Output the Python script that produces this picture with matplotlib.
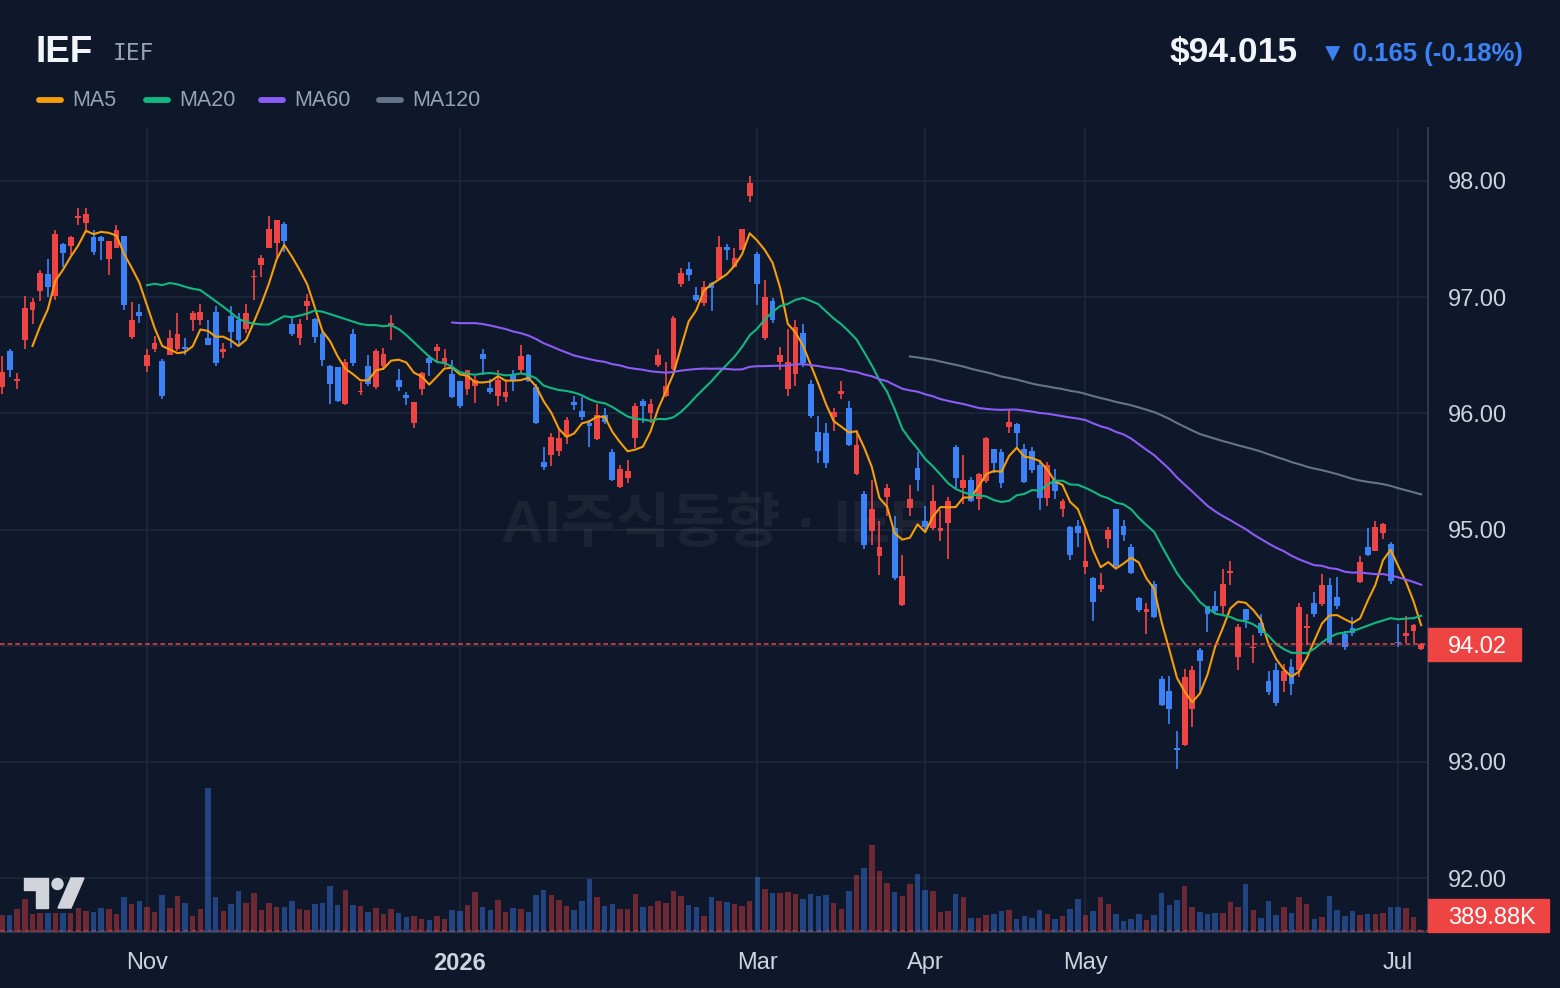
import numpy as np
import pandas as pd
import matplotlib
matplotlib.use("Agg")
import matplotlib.pyplot as plt
import matplotlib.transforms as mtrans
from matplotlib.patches import Rectangle, Polygon, Ellipse
from matplotlib.lines import Line2D

# daily bars, oldest first (Oct 7 2025 .. Jul 7 2026)
opens = [96.23, 96.54, 96.28, 96.63, 96.89, 97.05, 97.20, 97.01, 97.46, 97.44,
         97.68, 97.64, 97.52, 97.52, 97.33, 97.42, 97.53, 96.66, 96.87, 96.41,
         96.55, 96.45, 96.50, 96.55, 96.57, 96.80, 96.80, 96.65, 96.87, 96.53,
         96.84, 96.80, 96.73, 97.17, 97.28, 97.42, 97.47, 97.63, 96.77, 96.65,
         96.92, 96.81, 96.68, 96.41, 96.40, 96.08, 96.68, 96.18, 96.41, 96.23,
         96.41, 96.76, 96.29, 96.16, 95.92, 96.21, 96.48, 96.54, 96.43, 96.34,
         96.28, 96.21, 96.24, 96.51, 96.22, 96.15, 96.14, 96.34, 96.37, 96.50,
         96.23, 95.58, 95.64, 95.68, 95.80, 96.10, 96.02, 95.92, 95.78, 95.99,
         95.67, 95.37, 95.44, 95.79, 96.11, 96.00, 96.42, 96.15, 96.38, 97.11,
         97.24, 97.02, 96.95, 97.12, 97.16, 97.43, 97.26, 97.41, 97.87, 97.37,
         96.65, 96.97, 96.44, 96.21, 96.34, 96.69, 96.25, 95.84, 95.83, 95.97,
         96.17, 96.05, 95.48, 95.31, 94.99, 94.77, 95.28, 95.01, 94.35, 95.19,
         95.53, 95.07, 95.01, 94.99, 95.06, 95.71, 95.36, 95.43, 95.26, 95.42,
         95.69, 95.67, 95.88, 95.91, 95.69, 95.68, 95.56, 95.27, 95.43, 95.18,
         95.02, 95.03, 94.68, 94.58, 94.49, 94.92, 95.18, 95.03, 94.85, 94.41,
         94.29, 94.53, 93.71, 93.61, 93.12, 93.15, 93.46, 93.96, 94.34, 94.34,
         94.34, 94.63, 93.90, 94.32, 93.98, 94.20, 93.70, 93.79, 93.70, 93.82,
         93.79, 94.15, 94.37, 94.36, 94.52, 94.42, 94.10, 94.15, 94.55, 94.85,
         94.82, 94.97, 94.88, 94.03, 94.08, 94.13, 93.97]
highs = [96.49, 96.55, 96.35, 97.01, 96.99, 97.23, 97.33, 97.58, 97.47, 97.53,
         97.77, 97.77, 97.58, 97.53, 97.48, 97.62, 97.53, 96.96, 96.94, 96.55,
         96.67, 96.47, 96.72, 96.86, 96.65, 96.88, 96.94, 96.80, 96.92, 96.61,
         96.92, 96.86, 96.94, 97.23, 97.36, 97.70, 97.66, 97.65, 96.83, 96.81,
         97.03, 96.82, 96.70, 96.42, 96.40, 96.47, 96.73, 96.27, 96.50, 96.55,
         96.56, 96.85, 96.38, 96.18, 96.10, 96.36, 96.50, 96.60, 96.55, 96.46,
         96.28, 96.37, 96.32, 96.55, 96.30, 96.37, 96.29, 96.37, 96.59, 96.51,
         96.25, 95.71, 95.83, 95.86, 95.97, 96.15, 96.14, 95.94, 96.08, 96.05,
         95.69, 95.56, 95.60, 96.09, 96.12, 96.12, 96.55, 96.44, 96.84, 97.25,
         97.30, 97.09, 97.14, 97.13, 97.53, 97.46, 97.42, 97.59, 98.04, 97.39,
         97.15, 96.99, 96.57, 96.73, 96.80, 96.77, 96.29, 95.98, 95.92, 96.05,
         96.28, 96.11, 95.86, 95.33, 95.43, 95.07, 95.39, 95.12, 94.78, 95.38,
         95.67, 95.20, 95.38, 95.17, 95.28, 95.73, 95.64, 95.45, 95.49, 95.80,
         95.69, 95.69, 96.04, 95.92, 95.74, 95.71, 95.60, 95.58, 95.52, 95.26,
         95.03, 95.08, 95.03, 94.59, 94.63, 95.02, 95.18, 95.08, 94.88, 94.42,
         94.37, 94.56, 93.74, 93.74, 93.27, 93.80, 93.83, 93.98, 94.34, 94.47,
         94.66, 94.73, 94.19, 94.32, 94.09, 94.27, 93.78, 93.85, 93.84, 93.89,
         94.37, 94.27, 94.46, 94.62, 94.58, 94.59, 94.13, 94.25, 94.77, 95.01,
         95.07, 95.06, 94.89, 94.19, 94.26, 94.19, 94.02]
lows = [96.17, 96.31, 96.21, 96.55, 96.77, 96.97, 97.00, 96.98, 97.26, 97.36,
        97.62, 97.55, 97.36, 97.32, 97.19, 97.42, 96.89, 96.64, 96.78, 96.36,
        96.53, 96.12, 96.50, 96.54, 96.50, 96.71, 96.76, 96.59, 96.41, 96.48,
        96.56, 96.59, 96.69, 96.98, 97.17, 97.42, 97.33, 97.39, 96.67, 96.59,
        96.80, 96.61, 96.41, 96.08, 96.10, 96.07, 96.41, 96.16, 96.24, 96.21,
        96.37, 96.63, 96.19, 96.07, 95.87, 96.16, 96.32, 96.44, 96.40, 96.13,
        96.05, 96.16, 96.09, 96.33, 96.17, 96.06, 96.10, 96.19, 96.35, 96.27,
        95.91, 95.51, 95.55, 95.63, 95.74, 96.03, 95.94, 95.71, 95.77, 95.91,
        95.42, 95.36, 95.40, 95.70, 95.92, 95.92, 96.40, 96.14, 96.37, 97.09,
        97.14, 96.96, 96.92, 96.88, 97.15, 97.32, 97.26, 97.41, 97.82, 96.93,
        96.63, 96.78, 96.37, 96.15, 96.24, 96.40, 95.96, 95.57, 95.53, 95.85,
        96.12, 95.72, 95.47, 94.83, 94.87, 94.61, 95.12, 94.57, 94.34, 95.12,
        95.33, 95.00, 95.00, 94.90, 94.75, 95.36, 95.22, 95.24, 95.17, 95.40,
        95.49, 95.36, 95.83, 95.70, 95.40, 95.49, 95.17, 95.20, 95.26, 95.11,
        94.74, 94.85, 94.62, 94.21, 94.46, 94.84, 94.67, 94.90, 94.62, 94.29,
        94.10, 94.24, 93.48, 93.33, 92.94, 93.14, 93.30, 93.61, 94.12, 94.28,
        94.27, 94.52, 93.79, 94.15, 93.85, 94.08, 93.58, 93.48, 93.60, 93.58,
        93.73, 94.01, 94.25, 94.34, 94.01, 94.32, 93.96, 94.08, 94.54, 94.77,
        94.82, 94.92, 94.53, 93.99, 94.02, 94.02, 93.96]
closes = [96.36, 96.37, 96.30, 96.91, 96.96, 97.21, 97.09, 97.54, 97.38, 97.52,
          97.70, 97.72, 97.39, 97.48, 97.48, 97.58, 96.93, 96.80, 96.84, 96.50,
          96.61, 96.15, 96.65, 96.68, 96.55, 96.86, 96.87, 96.59, 96.43, 96.55,
          96.70, 96.63, 96.86, 97.18, 97.34, 97.59, 97.66, 97.48, 96.68, 96.77,
          96.97, 96.66, 96.46, 96.25, 96.11, 96.44, 96.43, 96.19, 96.25, 96.54,
          96.51, 96.78, 96.23, 96.13, 96.10, 96.35, 96.43, 96.57, 96.48, 96.14,
          96.06, 96.37, 96.29, 96.47, 96.18, 96.29, 96.18, 96.29, 96.49, 96.28,
          95.92, 95.54, 95.80, 95.79, 95.94, 96.07, 95.97, 95.89, 95.99, 95.93,
          95.43, 95.52, 95.50, 96.06, 96.06, 96.08, 96.50, 96.24, 96.82, 97.21,
          97.19, 96.98, 97.09, 97.08, 97.43, 97.41, 97.34, 97.59, 97.98, 97.11,
          97.00, 96.80, 96.50, 96.44, 96.74, 96.43, 95.98, 95.68, 95.57, 96.01,
          96.19, 95.73, 95.73, 94.87, 95.18, 94.85, 95.36, 94.58, 94.60, 95.26,
          95.43, 95.02, 95.25, 95.01, 95.25, 95.44, 95.43, 95.25, 95.48, 95.79,
          95.57, 95.40, 95.93, 95.83, 95.41, 95.51, 95.27, 95.56, 95.33, 95.25,
          94.78, 94.97, 94.73, 94.38, 94.52, 95.00, 94.69, 94.95, 94.63, 94.31,
          94.32, 94.25, 93.49, 93.46, 93.10, 93.73, 93.79, 93.87, 94.27, 94.30,
          94.53, 94.64, 94.16, 94.22, 93.99, 94.11, 93.60, 93.51, 93.78, 93.67,
          94.33, 94.17, 94.27, 94.52, 94.02, 94.34, 93.99, 94.11, 94.72, 94.78,
          95.02, 95.05, 94.56, 94.02, 94.11, 94.18, 94.015]
# volume, millions of shares
volumes = [2.82, 2.82, 3.83, 5.52, 2.98, 3.15, 3.15, 3.15, 3.15, 3.15,
           4.00, 3.49, 3.32, 4.00, 3.83, 2.98, 5.86, 4.67, 5.18, 4.17,
           3.32, 6.19, 4.00, 6.02, 4.84, 2.65, 3.83, 24.32, 5.86, 3.49,
           4.67, 6.87, 4.84, 6.53, 3.66, 4.84, 4.17, 4.17, 5.18, 3.83,
           3.66, 4.67, 4.84, 7.71, 4.50, 7.04, 4.50, 4.34, 3.32, 4.00,
           2.98, 3.83, 3.15, 2.48, 2.65, 2.14, 1.97, 2.65, 2.14, 3.66,
           3.49, 4.50, 6.70, 4.17, 3.66, 5.35, 3.32, 4.00, 3.83, 3.32,
           6.19, 7.04, 6.19, 5.35, 4.34, 3.66, 5.18, 8.90, 5.86, 4.34,
           4.67, 3.83, 3.83, 6.36, 4.17, 4.34, 5.18, 4.84, 6.87, 6.02,
           4.50, 4.17, 2.65, 5.86, 5.18, 5.01, 4.67, 4.34, 5.18, 9.23,
           7.21, 6.53, 6.53, 6.70, 6.36, 5.52, 6.36, 6.02, 6.19, 4.84,
           3.83, 6.87, 9.57, 10.75, 14.64, 10.25, 8.22, 6.70, 6.02, 8.05,
           9.74, 7.04, 6.87, 3.32, 3.49, 6.36, 5.86, 2.31, 2.31, 2.82,
           2.98, 3.49, 3.66, 2.14, 2.65, 2.31, 3.66, 2.98, 2.14, 2.65,
           3.83, 5.52, 2.82, 3.49, 5.86, 4.67, 2.98, 1.80, 2.14, 2.98,
           1.97, 2.82, 6.53, 4.50, 5.35, 7.71, 4.17, 3.32, 2.98, 3.15,
           3.15, 5.01, 4.17, 8.05, 3.66, 2.31, 5.18, 2.82, 4.17, 3.15,
           5.86, 4.67, 2.14, 2.48, 6.02, 3.66, 2.65, 3.49, 2.82, 2.98,
           2.98, 3.15, 4.17, 4.17, 4.00, 2.48, 0.38988]

month_pos = [19, 60, 99, 121, 142, 183]
month_lab = ['Nov', '2026', 'Mar', 'Apr', 'May', 'Jul']
price_ticks = [92, 93, 94, 95, 96, 97, 98]

ma_list = [(5, 'MA5', '#f59e0b'), (20, 'MA20', '#10b981'),
           (60, 'MA60', '#8b5cf6'), (120, 'MA120', '#64748b')]

BG = '#0f172a'
UP = '#ef4444'
DOWN = '#3b82f6'
GRID = '#1e293b'
TXT = '#cbd5e1'
MUTED = '#94a3b8'

plt.rcParams['font.family'] = ['Liberation Sans', 'Noto Sans CJK KR', 'DejaVu Sans']

W, H = 1560, 988
fig = plt.figure(figsize=(W / 100, H / 100), dpi=100, facecolor=BG)
ax = fig.add_axes([0, 56 / H, 1428 / W, 804 / H])
ax.set_facecolor(BG)

o = np.array(opens); h = np.array(highs); l = np.array(lows); c = np.array(closes)
v = np.array(volumes)
x = np.arange(len(c))
col = np.where(c >= o, UP, DOWN)

# watermark
ax.text(0.5, 0.505, 'AI주식동향 · IEF', transform=ax.transAxes, ha='center', va='center',
        fontsize=43, fontweight='bold', color='white', alpha=0.055, zorder=1)

# candles
ax.vlines(x, l, h, colors=col, linewidth=1.25, zorder=3)
ax.bar(x, np.maximum(np.abs(c - o), 0.012), bottom=np.minimum(o, c), width=0.76,
       color=col, linewidth=0, zorder=4)

# moving averages
s = pd.Series(c)
for n, name, mc in ma_list:
    ax.plot(x, s.rolling(n).mean(), color=mc, lw=1.5, zorder=5)

# last price line
ax.axhline(c[-1], color=UP, lw=1.1, ls=(0, (3, 2)), zorder=6)

ax.set_xlim(-0.26, 186.9)
ax.set_ylim(91.537, 98.456)
ax.grid(True, color=GRID, lw=1.1)
ax.set_axisbelow(True)
for side in ['top', 'left']:
    ax.spines[side].set_visible(False)
for side in ['right', 'bottom']:
    ax.spines[side].set_color('#334155')
    ax.spines[side].set_linewidth(1.2)

# volume overlay
axv = ax.twinx()
axv.bar(x, v, width=0.72, color=col, alpha=0.42, linewidth=0, zorder=2)
axv.axhline(v[-1], color=UP, lw=1, ls=(0, (3, 3)), alpha=0.5)
axv.set_ylim(0, 136)
axv.set_yticks([])
for sp in axv.spines.values():
    sp.set_visible(False)

# axis ticks (after twinx, which moves ticks to the left)
ax.set_xticks(month_pos)
ax.set_xticklabels(month_lab)
for t in ax.get_xticklabels():
    if t.get_text() == '2026':
        t.set_fontweight('bold')
ax.set_yticks(price_ticks)
ax.set_yticklabels(['' if p == 94 else f'{p:.2f}' for p in price_ticks])
ax.yaxis.tick_right()
ax.yaxis.set_label_position('right')
ax.tick_params(axis='y', which='both', left=False, right=True, labelleft=False, labelright=True,
               length=0, pad=14.4, labelsize=17, labelcolor=TXT)
ax.tick_params(axis='x', length=0, pad=14.5, labelsize=17, labelcolor=TXT)

# price / volume labels on the right axis
tr = mtrans.blended_transform_factory(ax.transAxes, ax.transData)
bh = 33 / 116.2
axv.add_patch(Rectangle((1.0, c[-1] - bh / 2), 93 / 1428, bh, transform=tr,
                        color=UP, clip_on=False, zorder=10))
axv.text(1 + 20 / 1428, c[-1], f'{c[-1] + 1e-9:.2f}', transform=tr, ha='left',
         va='center_baseline', fontsize=17, color='white', zorder=11, clip_on=False)
axv.add_patch(Rectangle((1.0, 0), 121 / 1428, 33 / 804, transform=axv.transAxes,
                        color=UP, clip_on=False, zorder=10))
axv.text(1 + 20 / 1428, 16.5 / 804, f'{v[-1] * 1000:.2f}K', transform=axv.transAxes,
         ha='left', va='center_baseline', fontsize=17, color='white', zorder=11, clip_on=False)

# header
def fx(px):
    return px / W

def fy(py):
    return 1 - py / H

fig.text(fx(36), fy(62), 'IEF', fontsize=26.5, fontweight='bold', color='#f1f5f9', va='baseline')
fig.text(fx(113), fy(60), 'IEF', fontsize=16.5, color=MUTED, va='baseline', family='DejaVu Sans Mono')

chg = c[-1] - c[-2]
pct = chg / c[-2] * 100
arrow = '▼' if chg < 0 else '▲'
fig.text(fx(1298), fy(62), f'${c[-1]:.3f}', fontsize=25.5, fontweight='bold', color='#f1f5f9',
         ha='right', va='baseline')
fig.text(fx(1523), fy(61), f'{arrow} {abs(chg):.3f} ({pct:.2f}%)', fontsize=18.5, fontweight='bold',
         color=DOWN if chg < 0 else UP, ha='right', va='baseline',
         family=['Liberation Sans', 'DejaVu Sans'])

leg_x = [36, 143, 258, 376]
for (n, name, mc), lx in zip(ma_list, leg_x):
    fig.add_artist(Line2D([fx(lx + 3), fx(lx + 25)], [fy(100), fy(100)], color=mc, lw=4.2,
                          solid_capstyle='round', transform=fig.transFigure))
    fig.text(fx(lx + 36), fy(106), name, fontsize=15.5, color=MUTED, va='baseline')

# tradingview mark
ov = fig.add_axes([0, 0, 1, 1], zorder=20)
ov.set_xlim(0, W)
ov.set_ylim(H, 0)
ov.axis('off')
logo = '#d1d5db'
ov.add_patch(Polygon([(24, 878), (48, 878), (48, 908), (36, 908), (36, 890), (24, 890)], color=logo))
ov.add_patch(Ellipse((57.5, 884), 11, 11, color=logo))
ov.add_patch(Polygon([(58, 908), (71, 908), (84, 878), (71, 878)], color=logo))

fig.savefig('out.png', dpi=100, facecolor=BG)
